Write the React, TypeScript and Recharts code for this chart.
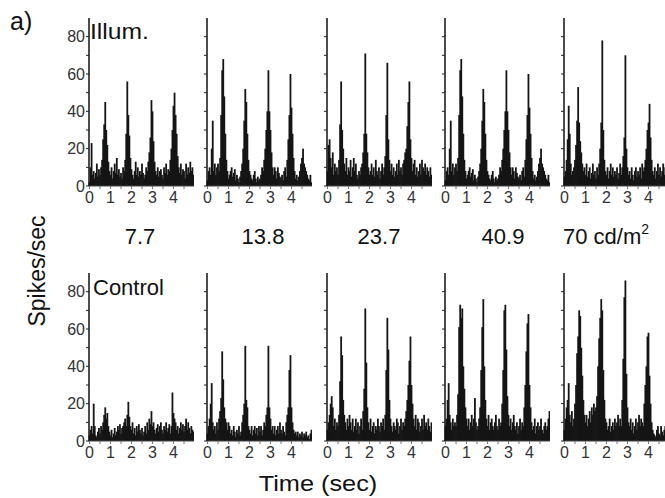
import { BarChart, Bar, XAxis, YAxis } from 'recharts'

// spike rate (spikes/sec) in 50 ms bins, 0–5 s
const illum77 = [
  2, 10, 23, 6, 8, 4, 7, 12, 5, 9,
  6, 10, 14, 25, 33, 45, 30, 22, 13, 8,
  6, 10, 4, 8, 12, 7, 15, 6, 9, 5,
  7, 4, 10, 8, 14, 28, 56, 38, 27, 15,
  9, 6, 4, 8, 13, 6, 10, 5, 8, 6,
  12, 7, 4, 6, 10, 8, 13, 18, 26, 46,
  40, 24, 13, 8, 6, 10, 5, 8, 9, 6,
  4, 10, 7, 12, 6, 9, 8, 14, 20, 30,
  43, 50, 38, 28, 16, 10, 7, 12, 6, 9,
  8, 4, 12, 6, 10, 7, 13, 8, 10, 6,
]
const illum138 = [
  3, 8, 10, 6, 20, 35, 8, 12, 6, 10,
  12, 8, 15, 38, 62, 68, 48, 28, 14, 8,
  4, 6, 8, 10, 5, 7, 9, 3, 6, 4,
  2, 5, 8, 12, 20, 35, 52, 45, 28, 14,
  8, 6, 4, 3, 6, 8, 4, 2, 5, 3,
  4, 6, 10, 8, 14, 20, 30, 40, 62, 40,
  30, 18, 10, 6, 10, 8, 4, 10, 7, 5,
  4, 6, 3, 8, 10, 5, 14, 25, 38, 60,
  42, 28, 15, 8, 4, 6, 3, 5, 8, 12,
  15, 20, 12, 10, 8, 6, 4, 3, 6, 2,
]
const illum237 = [
  8, 22, 25, 15, 10, 18, 6, 12, 8, 10,
  6, 14, 33, 56, 30, 20, 12, 8, 15, 6,
  10, 8, 14, 5, 10, 15, 8, 12, 6, 4,
  8, 6, 10, 12, 18, 28, 71, 28, 18, 10,
  6, 8, 12, 6, 10, 5, 14, 8, 6, 10,
  4, 8, 12, 6, 10, 16, 38, 66, 25, 14,
  8, 12, 6, 10, 5, 8, 12, 6, 14, 8,
  10, 6, 12, 14, 18, 20, 32, 45, 56, 25,
  15, 8, 12, 14, 6, 10, 5, 8, 12, 6,
  14, 10, 8, 12, 6, 10, 8, 5, 10, 6,
]
// the 40.9 panel in the figure is the same histogram as 13.8
const illum409 = illum138
const illum70 = [
  5, 8, 14, 25, 43, 28, 12, 6, 8, 10,
  14, 22, 35, 53, 34, 24, 18, 12, 8, 10,
  6, 12, 5, 8, 10, 4, 7, 12, 6, 8,
  4, 10, 6, 12, 20, 34, 78, 30, 14, 8,
  6, 10, 4, 8, 12, 6, 10, 5, 8, 6,
  10, 4, 7, 12, 6, 10, 16, 26, 70, 20,
  10, 6, 8, 4, 10, 6, 3, 8, 10, 5,
  8, 6, 10, 4, 12, 8, 10, 14, 20, 30,
  34, 44, 26, 14, 8, 6, 10, 4, 8, 12,
  6, 10, 5, 8, 12, 6, 10, 4, 8, 10,
]

const ctrl77 = [
  3, 6, 8, 4, 20, 8, 3, 2, 5, 7,
  4, 8, 6, 10, 14, 18, 12, 15, 8, 5,
  3, 6, 2, 4, 7, 3, 5, 8, 6, 9,
  4, 7, 8, 10, 12, 8, 14, 21, 13, 8,
  6, 10, 4, 7, 3, 8, 5, 9, 6, 4,
  7, 3, 5, 8, 4, 10, 6, 12, 9, 16,
  8, 10, 6, 4, 7, 9, 5, 8, 10, 6,
  4, 8, 6, 10, 5, 7, 9, 4, 8, 26,
  15, 12, 10, 6, 8, 4, 7, 10, 6, 9,
  5, 8, 12, 6, 10, 7, 4, 8, 6, 5,
]
const ctrl138 = [
  4, 8, 12, 20, 31, 10, 6, 8, 4, 10,
  6, 12, 16, 23, 48, 33, 18, 12, 10, 6,
  10, 8, 4, 6, 3, 8, 5, 2, 6, 4,
  8, 3, 5, 10, 14, 20, 51, 22, 18, 8,
  6, 4, 8, 3, 6, 8, 4, 7, 3, 8,
  5, 8, 3, 6, 10, 8, 14, 18, 51, 18,
  12, 6, 8, 4, 8, 3, 6, 8, 4, 10,
  6, 4, 8, 5, 3, 10, 14, 18, 38, 46,
  18, 10, 6, 4, 5, 3, 5, 2, 4, 3,
  5, 2, 4, 3, 5, 2, 3, 1, 4, 6,
]
const ctrl237 = [
  6, 10, 14, 20, 24, 18, 8, 12, 6, 10,
  8, 14, 32, 56, 46, 22, 14, 10, 6, 12,
  8, 14, 10, 6, 12, 5, 8, 12, 6, 10,
  4, 8, 12, 6, 16, 28, 71, 42, 18, 10,
  6, 12, 5, 8, 10, 4, 8, 6, 12, 8,
  5, 10, 8, 12, 6, 14, 38, 66, 49, 22,
  12, 8, 5, 10, 8, 6, 12, 10, 4, 8,
  12, 6, 10, 8, 12, 16, 22, 30, 43, 56,
  30, 20, 12, 8, 14, 6, 12, 10, 5, 8,
  12, 6, 14, 8, 10, 6, 12, 8, 5, 10,
]
const ctrl409 = [
  8, 12, 22, 31, 14, 10, 6, 12, 8, 10,
  8, 14, 25, 61, 73, 66, 71, 40, 28, 18,
  12, 8, 12, 6, 10, 14, 8, 12, 23, 10,
  6, 8, 12, 18, 38, 61, 76, 40, 22, 12,
  8, 14, 6, 10, 12, 8, 6, 10, 14, 8,
  6, 12, 8, 10, 20, 38, 70, 73, 49, 24,
  14, 8, 12, 6, 10, 14, 8, 6, 10, 4,
  8, 12, 6, 10, 8, 18, 30, 48, 63, 68,
  30, 18, 10, 6, 8, 12, 4, 8, 10, 6,
  8, 12, 6, 4, 8, 10, 6, 8, 12, 16,
]
const ctrl70 = [
  6, 12, 18, 22, 31, 14, 10, 16, 8, 12,
  20, 30, 47, 56, 70, 67, 50, 35, 22, 14,
  10, 14, 8, 12, 16, 10, 18, 14, 20, 16,
  18, 24, 40, 55, 66, 76, 70, 38, 22, 12,
  10, 6, 8, 12, 5, 8, 10, 6, 12, 8,
  10, 14, 8, 12, 8, 22, 44, 77, 86, 36,
  18, 10, 8, 12, 6, 10, 4, 8, 12, 6,
  10, 14, 8, 12, 10, 8, 20, 30, 40, 56,
  58, 35, 20, 10, 6, 4, 3, 2, 6, 8,
  4, 3, 8, 5, 3, 6, 8, 4, 8, 5,
]

const illumRows = [illum77, illum138, illum237, illum409, illum70]
const ctrlRows = [ctrl77, ctrl138, ctrl237, ctrl409, ctrl70]
const luminances = ['7.7', '13.8', '23.7', '40.9', '70']

const BINS_PER_SEC = 20
const xTickBins = [0, 10, 20, 30, 40, 50, 60, 70, 80, 90] // every 0.5 s
const yTicks = [0, 10, 20, 30, 40, 50, 60, 70, 80]

const FONT = '"Liberation Sans", Arial, sans-serif'
const PLOT_W = 105
const PLOT_H = 168
const AXIS_W = 40
const PAD_TOP = 6
const XAXIS_H = 30
const panelX = [89, 207, 327, 445, 564]
const rowY = [18, 273]
const luxCenters = [140, 263, 379, 503, 606]

// thin bars drawn a little wider than their slot so neighbours overlap like the original
const BinBar = (p: any) =>
  p.height > 0 ? (
    <rect x={p.x + p.width / 2 - 0.9} y={p.y} width={1.8} height={p.height} fill="#151515" />
  ) : null

function Psth({ values, x, y, labelled }: { values: number[]; x: number; y: number; labelled: boolean }) {
  const data = values.map((rate, bin) => ({ bin, rate }))
  return (
    <div style={{ position: 'absolute', left: x - AXIS_W, top: y - PAD_TOP }}>
      <BarChart
        width={AXIS_W + PLOT_W}
        height={PAD_TOP + PLOT_H + XAXIS_H}
        data={data}
        margin={{ top: PAD_TOP, right: 0, bottom: 0, left: 0 }}
        barCategoryGap={0}
        barGap={0}
      >
        <XAxis
          dataKey="bin"
          height={XAXIS_H}
          ticks={xTickBins}
          interval={0}
          tickSize={3}
          tickMargin={3}
          tickFormatter={(b) => (b % BINS_PER_SEC === 0 ? String(b / BINS_PER_SEC) : '')}
          tick={{ fill: '#333', fontSize: 16 }}
          axisLine={{ stroke: '#444' }}
          tickLine={{ stroke: '#777' }}
        />
        <YAxis
          width={AXIS_W}
          domain={[0, 90]}
          ticks={yTicks}
          interval={0}
          tickSize={3}
          tickMargin={1}
          tickFormatter={(v) => (labelled && v % 20 === 0 ? String(v) : '')}
          tick={{ fill: '#333', fontSize: 16 }}
          axisLine={{ stroke: '#111', strokeWidth: 1.5 }}
          tickLine={{ stroke: '#222' }}
        />
        <Bar dataKey="rate" fill="#151515" shape={BinBar} isAnimationActive={false} />
      </BarChart>
    </div>
  )
}

const txt = (extra: React.CSSProperties): React.CSSProperties => ({
  position: 'absolute',
  fontFamily: FONT,
  lineHeight: 1,
  whiteSpace: 'nowrap',
  color: '#111',
  ...extra,
})

export default function App() {
  return (
    <div
      style={{
        position: 'absolute',
        left: 0,
        top: 0,
        width: 665,
        height: 498,
        overflow: 'hidden',
        background: '#fff',
        fontFamily: FONT,
      }}
    >
      {illumRows.map((v, i) => (
        <Psth key={'i' + i} values={v} x={panelX[i]} y={rowY[0]} labelled={i === 0} />
      ))}
      {ctrlRows.map((v, i) => (
        <Psth key={'c' + i} values={v} x={panelX[i]} y={rowY[1]} labelled={i === 0} />
      ))}

      <div style={txt({ left: 10, top: 9, fontSize: 25 })}>a)</div>
      <div style={txt({ left: 90, top: 21, fontSize: 22, transform: 'scaleX(1.12)', transformOrigin: 'left' })}>Illum.</div>
      <div style={txt({ left: 93, top: 277, fontSize: 22 })}>Control</div>

      {luminances.map((l, i) => (
        <div
          key={l}
          style={txt({ left: luxCenters[i], top: 226, fontSize: 22, transform: 'translateX(-50%)' })}
        >
          {l}
          {i === 4 && (
            <>
              {' cd/m'}
              <sup style={{ fontSize: 14, verticalAlign: 'top', position: 'relative', top: -4 }}>2</sup>
            </>
          )}
        </div>
      ))}

      <div
        style={txt({
          left: 37,
          top: 271,
          fontSize: 23,
          transform: 'translate(-50%, -50%) rotate(-90deg)',
        })}
      >
        Spikes/sec
      </div>
      <div
        style={txt({ left: 318, top: 473, fontSize: 22, transform: 'translateX(-50%) scaleX(1.15)' })}
      >
        Time (sec)
      </div>
    </div>
  )
}
